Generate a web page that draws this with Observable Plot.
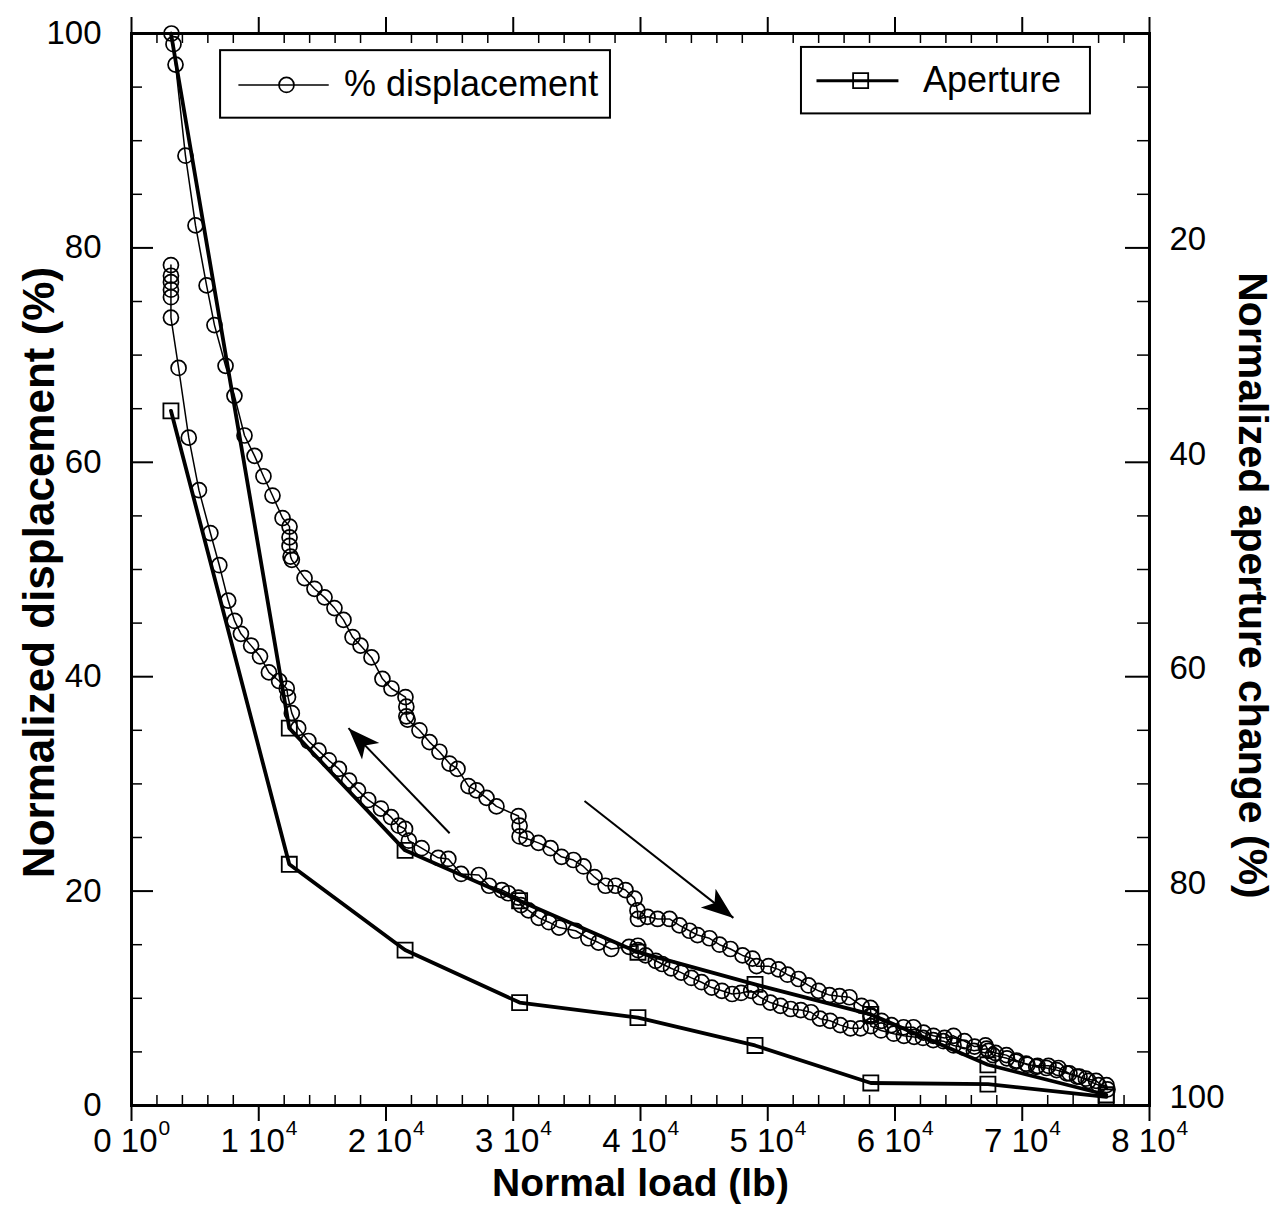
<!DOCTYPE html>
<html>
<head>
<meta charset="utf-8">
<script src="https://cdn.jsdelivr.net/npm/d3@7"></script>
<script src="https://cdn.jsdelivr.net/npm/@observablehq/plot@0.6"></script>
<style>
  body { margin: 0; background: #fff; }
  #chart { width: 1276px; height: 1224px; }
</style>
</head>
<body>
<div id="chart"></div>
<script>
// ---------------- DATA ----------------
// Loading branch of % displacement: normal load (lb) and normalized displacement (%)
const loadingLoad = [3140, 3300, 3460, 4240, 5030, 5900, 6520, 7390, 8090, 8880, 9670, 10370, 11080, 11870, 12420, 12420, 12420, 12500, 12600, 13600, 14380, 15170, 15950, 16660, 17370, 18000, 18860, 19720, 20430, 21530, 21600, 21600, 21700, 22630, 23420, 24200, 24990, 25620, 26480, 27110, 27900, 28680, 30410, 30500, 30500, 31040, 31980, 32930, 33790, 34730, 35520, 36390, 37250, 38040, 38820, 39530, 39760, 39800, 40550, 41340, 42280, 43060, 43850, 44480, 45420, 46210, 47070, 48020, 48800, 49120, 50060, 50840, 51550, 52420, 53200, 53990, 54850, 55640, 56420, 57370, 58070, 58100, 58940, 59720, 60670, 61450, 62240, 63020, 63890, 64600, 65460, 66250, 67110, 67350, 67900, 68760, 69550, 70410, 71200, 72060, 72850, 73710, 74500, 75210, 75990, 76620, 76700];
const loadingDisp = [100, 99, 97.1, 88.6, 82.1, 76.5, 72.8, 69, 66.2, 62.5, 60.6, 58.7, 56.9, 54.8, 54, 53, 52.2, 51.2, 50.9, 49.2, 48.2, 47.4, 46.4, 45.3, 43.7, 42.9, 41.8, 39.8, 38.9, 38.1, 37.2, 36.3, 36, 35, 33.9, 33, 31.9, 31.4, 29.8, 29.4, 28.7, 27.9, 27, 26.1, 25.1, 24.9, 24.5, 24, 23.2, 22.9, 22.3, 21.3, 20.5, 20.5, 20.1, 19.3, 18.2, 17.4, 17.6, 17.4, 17.4, 16.8, 16.3, 15.9, 15.6, 15, 14.6, 14, 13.7, 13, 13, 12.7, 12.2, 11.8, 11.2, 10.7, 10.3, 10.2, 10.1, 9.3, 9.1, 8.4, 7.9, 7.5, 7.3, 7.3, 6.8, 6.5, 6.3, 6.5, 6, 5.5, 5.6, 5.1, 4.9, 4.7, 4.2, 3.8, 3.7, 3.7, 3.5, 3, 2.7, 2.3, 1.9, 1.9, 1.5];

// Unloading branch (listed from maximum load back to minimum load)
const unloadingLoad = [76600, 75800, 75000, 74300, 73500, 72700, 71900, 71100, 70300, 69500, 68800, 67700, 67200, 66200, 65400, 64600, 63800, 63000, 62200, 61500, 60700, 59900, 58900, 58100, 58100, 57300, 56500, 55700, 54900, 54100, 53400, 52600, 51800, 51000, 50200, 49400, 48700, 47900, 47200, 46400, 45600, 44800, 44000, 43200, 42400, 41700, 41200, 40400, 39800, 39800, 39100, 37700, 36700, 35900, 34900, 33600, 32800, 32000, 31200, 30600, 30400, 29600, 29100, 28100, 27300, 25900, 24900, 24100, 22800, 21800, 21500, 21000, 20400, 19600, 18600, 17800, 17100, 16300, 15500, 14700, 13900, 13100, 12600, 12300, 12200, 11600, 10800, 10100, 9400, 8600, 8100, 7600, 6900, 6200, 5300, 4500, 3700, 3100, 3100, 3100, 3100, 3100, 3100];
const unloadingDisp = [2.1, 2.3, 2.5, 2.7, 3.0, 3.3, 3.5, 3.6, 3.9, 4.1, 4.4, 4.7, 5.3, 5.1, 5.4, 5.6, 6.0, 6.1, 6.3, 6.4, 6.5, 6.7, 7.0, 7.4, 8.3, 7.2, 7.2, 7.5, 7.9, 8.1, 8.7, 8.9, 9.0, 9.3, 9.6, 10.1, 10.7, 10.5, 10.4, 10.7, 11.0, 11.5, 11.9, 12.4, 12.8, 13.2, 13.5, 14.0, 14.5, 14.9, 14.8, 14.6, 15.2, 15.6, 16.3, 16.6, 17.1, 17.5, 18.2, 18.7, 19.4, 19.8, 20.1, 20.5, 21.5, 21.6, 23.0, 23.1, 24.0, 24.7, 25.8, 26.1, 26.9, 27.7, 28.5, 29.4, 30.3, 31.4, 32.2, 33.1, 34.0, 35.2, 36.6, 38.1, 38.9, 39.6, 40.4, 41.9, 42.9, 44.0, 45.2, 47.1, 50.4, 53.4, 57.4, 62.3, 68.8, 73.5, 75.4, 76.1, 76.8, 77.4, 78.4];

// Aperture (right axis, normalized aperture change %, 0 at top, 100 at bottom)
const apertureLoad = [3100, 12400, 21500, 30500, 39800, 49000, 58100, 67300, 76600];
const apertureLoading = [0, 64.8, 76.2, 80.9, 85.7, 88.7, 91.5, 96.2, 99.0];
const apertureUnloading = [35.2, 77.5, 85.5, 90.4, 91.8, 94.4, 97.9, 98.0, 99.2];

// Axis ticks and labels
const xMajor = [0, 10000, 20000, 30000, 40000, 50000, 60000, 70000, 80000];
const xTickMantissa = ["0", "1", "2", "3", "4", "5", "6", "7", "8"];
const xTickExponent = ["0", "4", "4", "4", "4", "4", "4", "4", "4"];
const yMajor = [0, 20, 40, 60, 80, 100];
const rightMajor = [20, 40, 60, 80, 100];

// Annotation arrows (data units): tail -> tip
const arrowsData = [
  {x1: 25000, y1: 25.4, x2: 17050, y2: 35.2},   // unloading direction
  {x1: 35600, y1: 28.4, x2: 47300, y2: 17.5}    // loading direction
];

// Legend texts
const legendLabels = ["% displacement", "Aperture"];

// ---------------- LAYOUT ----------------
const W = 1276, H = 1224;
const mL = 131, mR = 127, mT = 33, mB = 119;
const xDom = [0, 80000], yDom = [0, 100];
const sx = (W - mL - mR) / (xDom[1] - xDom[0]);
const sy = (H - mT - mB) / (yDom[1] - yDom[0]);
const pxX = p => p / sx;   // pixels -> lb
const pxY = p => p / sy;   // pixels -> %

const font = "'Liberation Sans', Arial, sans-serif";
const tickSize = 33, supSize = 21, legSize = 36;

const xMinor = d3.range(0, 80001, 2000).filter(v => v % 10000 !== 0);
const yMinor = d3.range(0, 101, 5).filter(v => v % 20 !== 0);

const dispRows = [
  ...loadingLoad.map((x, i) => ({x, y: loadingDisp[i]})),
  ...unloadingLoad.slice(1).map((x, i) => ({x, y: unloadingDisp[i + 1]}))
];
const apLoadRows = apertureLoad.map((x, i) => ({x, a: apertureLoading[i]}));
const apUnloadRows = apertureLoad.map((x, i) => ({x, a: apertureUnloading[i]}));
const apY = d => 100 - d.a;

const arrows = arrowsData.map(d => {
  const dxp = (d.x2 - d.x1) * sx, dyp = -(d.y2 - d.y1) * sy;
  return {...d, angle: Math.atan2(dxp, -dyp) * 180 / Math.PI};
});
const arrowHead = {
  draw(ctx) {
    ctx.moveTo(0, 0);
    ctx.lineTo(12, 32);
    ctx.lineTo(0, 24);
    ctx.lineTo(-12, 32);
    ctx.closePath();
  }
};

// Legend layout (data coordinates)
const leg1 = {x1: 7000, x2: 37640, y1: 92.1, y2: 98.4, lx1: 8400, lx2: 15500, ly: 95.2, mx: 12180, tx: 16700};
const leg2 = {x1: 52650, x2: 75360, y1: 92.5, y2: 98.7, lx1: 53830, lx2: 60270, ly: 95.6, mx: 57300, tx: 62200};

const chart = Plot.plot({
  width: W, height: H,
  marginLeft: mL, marginRight: mR, marginTop: mT, marginBottom: mB,
  x: {domain: xDom, axis: null},
  y: {domain: yDom, axis: null},
  style: {fontFamily: font, background: "white", color: "black"},
  marks: [
    // ticks: bottom/top majors outward, minors inward; left/right inward
    Plot.ruleX(xMajor, {x: d => d, y1: 0, y2: -pxY(16), stroke: "black", strokeWidth: 2}),
    Plot.ruleX(xMinor, {x: d => d, y1: 0, y2: pxY(10), stroke: "black", strokeWidth: 1.5}),
    Plot.ruleX(xMajor, {x: d => d, y1: 100, y2: 100 + pxY(16), stroke: "black", strokeWidth: 2}),
    Plot.ruleX(xMinor, {x: d => d, y1: 100, y2: 100 - pxY(10), stroke: "black", strokeWidth: 1.5}),
    Plot.ruleY(yMajor, {y: d => d, x1: 0, x2: pxX(22), stroke: "black", strokeWidth: 2}),
    Plot.ruleY(yMinor, {y: d => d, x1: 0, x2: pxX(11), stroke: "black", strokeWidth: 1.5}),
    Plot.ruleY(rightMajor, {y: a => 100 - a, x1: 80000, x2: 80000 - pxX(24), stroke: "black", strokeWidth: 2}),
    Plot.ruleY(yMinor, {y: d => d, x1: 80000, x2: 80000 - pxX(12), stroke: "black", strokeWidth: 1.5}),
    // tick labels
    Plot.text(yMajor, {x: 0, y: d => d, text: d => String(d), textAnchor: "end", dx: -30, fontSize: tickSize}),
    Plot.text(rightMajor, {x: 80000, y: a => 100 - a, text: a => String(a), textAnchor: "start", dx: 20, dy: -8, fontSize: tickSize}),
    Plot.text(xMajor, {x: d => d, y: 0, text: (d, i) => `${xTickMantissa[i]} 10`, textAnchor: "end", dx: 26, dy: 36, fontSize: tickSize}),
    Plot.text(xMajor, {x: d => d, y: 0, text: (d, i) => xTickExponent[i], textAnchor: "start", dx: 27, dy: 23, fontSize: supSize}),
    // axis titles
    Plot.text(["Normal load (lb)"], {frameAnchor: "bottom", dy: 78, lineAnchor: "middle", textAnchor: "middle", fontSize: 39, fontWeight: "bold", text: d => d}),
    Plot.text(["Normalized displacement (%)"], {frameAnchor: "left", dx: -92, dy: 3, lineAnchor: "middle", textAnchor: "middle", rotate: -90, fontSize: 44, fontWeight: "bold", text: d => d}),
    Plot.text(["Normalized aperture change (%)"], {frameAnchor: "right", dx: 103, dy: 16, lineAnchor: "middle", textAnchor: "middle", rotate: 90, fontSize: 41, fontWeight: "bold", text: d => d}),
    // aperture (thick lines + squares; the first loading point sits under the frame without a marker)
    Plot.line(apLoadRows, {x: "x", y: apY, stroke: "black", strokeWidth: 3.8}),
    Plot.line(apUnloadRows, {x: "x", y: apY, stroke: "black", strokeWidth: 3.8}),
    Plot.dot(apLoadRows.slice(1), {x: "x", y: apY, symbol: "square", r: 8.5, stroke: "black", strokeWidth: 1.8, fill: "none"}),
    Plot.dot(apUnloadRows, {x: "x", y: apY, symbol: "square", r: 8.5, stroke: "black", strokeWidth: 1.8, fill: "none"}),
    // % displacement (thin line + open circles)
    Plot.line(dispRows, {x: "x", y: "y", stroke: "black", strokeWidth: 1.5}),
    Plot.dot(dispRows, {x: "x", y: "y", r: 7.5, stroke: "black", strokeWidth: 1.7, fill: "none"}),
    // arrows
    Plot.link(arrows, {x1: "x1", y1: "y1", x2: "x2", y2: "y2", stroke: "black", strokeWidth: 2}),
    Plot.dot(arrows, {x: "x2", y: "y2", rotate: "angle", symbol: arrowHead, fill: "black", stroke: "none", r: 10}),
    // legends
    Plot.rect([leg1, leg2], {x1: "x1", x2: "x2", y1: "y1", y2: "y2", fill: "white", stroke: "black", strokeWidth: 2}),
    Plot.link([leg1], {x1: "lx1", x2: "lx2", y1: "ly", y2: "ly", stroke: "black", strokeWidth: 1.5}),
    Plot.dot([leg1], {x: "mx", y: "ly", r: 7.5, stroke: "black", strokeWidth: 1.7, fill: "none"}),
    Plot.text([leg1], {x: "tx", y: "ly", text: () => legendLabels[0], textAnchor: "start", fontSize: legSize}),
    Plot.link([leg2], {x1: "lx1", x2: "lx2", y1: "ly", y2: "ly", stroke: "black", strokeWidth: 3}),
    Plot.dot([leg2], {x: "mx", y: "ly", symbol: "square", r: 8.5, stroke: "black", strokeWidth: 1.8, fill: "none"}),
    Plot.text([leg2], {x: "tx", y: "ly", text: () => legendLabels[1], textAnchor: "start", fontSize: legSize}),
    // frame
    Plot.frame({stroke: "black", strokeWidth: 3})
  ]
});
document.getElementById("chart").appendChild(chart);
</script>
</body>
</html>
